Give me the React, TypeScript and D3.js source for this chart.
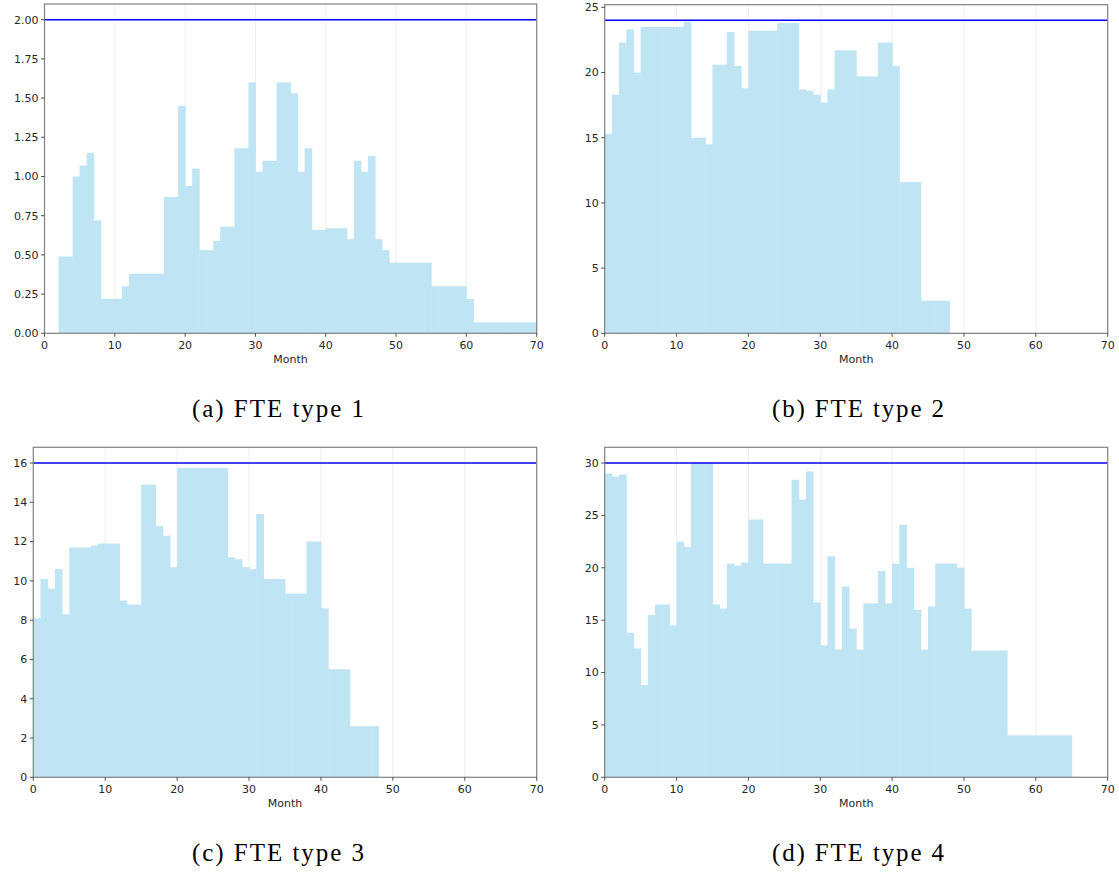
import React from "react";
import * as d3 from "d3";

// Monthly FTE demand per type (months 0..69)
const months = d3.range(0, 70);

const fteType1 = [
  0, 0, 0.49, 0.49, 1.0, 1.07, 1.15, 0.72, 0.22, 0.22,
  0.22, 0.3, 0.38, 0.38, 0.38, 0.38, 0.38, 0.87, 0.87, 1.45,
  0.94, 1.05, 0.53, 0.53, 0.59, 0.68, 0.68, 1.18, 1.18, 1.6,
  1.03, 1.1, 1.1, 1.6, 1.6, 1.53, 1.03, 1.18, 0.66, 0.66,
  0.67, 0.67, 0.67, 0.6, 1.1, 1.03, 1.13, 0.6, 0.53, 0.45,
  0.45, 0.45, 0.45, 0.45, 0.45, 0.3, 0.3, 0.3, 0.3, 0.3,
  0.22, 0.07, 0.07, 0.07, 0.07, 0.07, 0.07, 0.07, 0.07, 0.07,
];

const fteType2 = [
  15.3, 18.3, 22.3, 23.3, 20.0, 23.5, 23.5, 23.5, 23.5, 23.5,
  23.5, 23.9, 15.0, 15.0, 14.5, 20.6, 20.6, 23.1, 20.5, 18.8,
  23.2, 23.2, 23.2, 23.2, 23.8, 23.8, 23.8, 18.7, 18.6, 18.3,
  17.7, 18.7, 21.7, 21.7, 21.7, 19.7, 19.7, 19.7, 22.3, 22.3,
  20.5, 11.6, 11.6, 11.6, 2.5, 2.5, 2.5, 2.5, 0, 0,
  0, 0, 0, 0, 0, 0, 0, 0, 0, 0,
  0, 0, 0, 0, 0, 0, 0, 0, 0, 0,
];

const fteType3 = [
  8.1, 10.1, 9.6, 10.6, 8.3, 11.7, 11.7, 11.7, 11.8, 11.9,
  11.9, 11.9, 9.0, 8.8, 8.8, 14.9, 14.9, 12.8, 12.3, 10.7,
  15.75, 15.75, 15.75, 15.75, 15.75, 15.75, 15.75, 11.2, 11.1, 10.7,
  10.6, 13.4, 10.1, 10.1, 10.1, 9.35, 9.35, 9.35, 12.0, 12.0,
  8.6, 5.5, 5.5, 5.5, 2.6, 2.6, 2.6, 2.6, 0, 0,
  0, 0, 0, 0, 0, 0, 0, 0, 0, 0,
  0, 0, 0, 0, 0, 0, 0, 0, 0, 0,
];

const fteType4 = [
  29.0, 28.7, 28.9, 13.8, 12.3, 8.8, 15.5, 16.5, 16.5, 14.5,
  22.5, 22.0, 30.0, 30.0, 30.0, 16.5, 16.1, 20.4, 20.2, 20.5,
  24.6, 24.6, 20.4, 20.4, 20.4, 20.4, 28.4, 26.5, 29.2, 16.7,
  12.6, 21.1, 12.2, 18.2, 14.2, 12.2, 16.6, 16.6, 19.7, 16.6,
  20.4, 24.1, 20.0, 16.0, 12.2, 16.3, 20.4, 20.4, 20.4, 20.0,
  16.1, 12.1, 12.1, 12.1, 12.1, 12.1, 4.0, 4.0, 4.0, 4.0,
  4.0, 4.0, 4.0, 4.0, 4.0, 0, 0, 0, 0, 0,
];

// Capacity limits (blue lines)
const capacities = [2, 24, 16, 30];
const yMaxes = [2.1, 25.2, 16.8, 31.5];
const yTickValues = [
  [0, 0.25, 0.5, 0.75, 1.0, 1.25, 1.5, 1.75, 2.0],
  [0, 5, 10, 15, 20, 25],
  [0, 2, 4, 6, 8, 10, 12, 14, 16],
  [0, 5, 10, 15, 20, 25, 30],
];
const yTickFormats = [".2f", "d", "d", "d"];
const xTickValues = [0, 10, 20, 30, 40, 50, 60, 70];
const captions = ["(a) FTE type 1", "(b) FTE type 2", "(c) FTE type 3", "(d) FTE type 4"];
const series = [fteType1, fteType2, fteType3, fteType4];

// Layout (pixels)
const layouts = [
  { x0: 44.5, x1: 536.7, yTop: 4, yBot: 333.3, capX: 278, capY: 417 },
  { x0: 604.7, x1: 1107.7, yTop: 4.7, yBot: 333.3, capX: 858, capY: 417 },
  { x0: 33.3, x1: 536.7, yTop: 447.3, yBot: 777.3, capX: 278, capY: 861 },
  { x0: 604.7, x1: 1107.7, yTop: 447.3, yBot: 777.3, capX: 858, capY: 861 },
];

const BAR = "#bfe4f3";
const FRAME = "#808080";
const TEXT = "#262626";
const SANS = "'DejaVu Sans', sans-serif";
const SERIF = "'Liberation Serif', 'DejaVu Serif', serif";

function Panel({ idx }: { idx: number }) {
  const L = layouts[idx];
  const values = series[idx];
  const x = d3.scaleLinear().domain([0, 70]).range([L.x0, L.x1]);
  const y = d3.scaleLinear().domain([0, yMaxes[idx]]).range([L.yBot, L.yTop]);
  const fmt = d3.format(yTickFormats[idx]);
  return (
    <g>
      {/* faint vertical grid */}
      {xTickValues.slice(1, -1).map((t) => (
        <line key={"g" + t} x1={x(t)} x2={x(t)} y1={L.yTop} y2={L.yBot} stroke="#efefef" strokeWidth={1} />
      ))}
      {/* bars */}
      {months.map((m) =>
        values[m] > 0 ? (
          <rect
            key={"b" + m}
            x={x(m)}
            y={y(values[m])}
            width={x(m + 1) - x(m) + 0.5}
            height={L.yBot - y(values[m])}
            fill={BAR}
          />
        ) : null
      )}
      {/* capacity line */}
      <line
        x1={L.x0}
        x2={L.x1}
        y1={y(capacities[idx])}
        y2={y(capacities[idx])}
        stroke="#0000ff"
        strokeWidth={1.5}
      />
      {/* frame */}
      <rect x={L.x0} y={L.yTop} width={L.x1 - L.x0} height={L.yBot - L.yTop} fill="none" stroke={FRAME} strokeWidth={1.2} />
      {/* y ticks */}
      {yTickValues[idx].map((t) => (
        <g key={"y" + t}>
          <line x1={L.x0 - 3.5} x2={L.x0} y1={y(t)} y2={y(t)} stroke={TEXT} strokeWidth={0.8} />
          <text x={L.x0 - 6} y={y(t)} dy="0.35em" textAnchor="end" fontFamily={SANS} fontSize={11} fill={TEXT}>
            {fmt(t)}
          </text>
        </g>
      ))}
      {/* x ticks */}
      {xTickValues.map((t) => (
        <g key={"x" + t}>
          <line x1={x(t)} x2={x(t)} y1={L.yBot} y2={L.yBot + 3.5} stroke={TEXT} strokeWidth={0.8} />
          <text x={x(t)} y={L.yBot + 15.5} textAnchor="middle" fontFamily={SANS} fontSize={11} fill={TEXT}>
            {t}
          </text>
        </g>
      ))}
      <text x={(L.x0 + L.x1) / 2} y={L.yBot + 29.5} textAnchor="middle" fontFamily={SANS} fontSize={11} fill={TEXT}>
        Month
      </text>
      <text
        x={L.capX}
        y={L.capY}
        textAnchor="middle"
        fontFamily={SERIF}
        fontSize={25}
        fill="#000"
        textLength={172}
        lengthAdjust="spacing"
      >
        {captions[idx]}
      </text>
    </g>
  );
}

export default function App() {
  return (
    <svg
      width={1119}
      height={874}
      viewBox="0 0 1119 874"
      style={{ position: "absolute", left: 0, top: 0, background: "#fff" }}
    >
      <rect x={0} y={0} width={1119} height={874} fill="#fff" />
      {[0, 1, 2, 3].map((i) => (
        <Panel key={i} idx={i} />
      ))}
    </svg>
  );
}
